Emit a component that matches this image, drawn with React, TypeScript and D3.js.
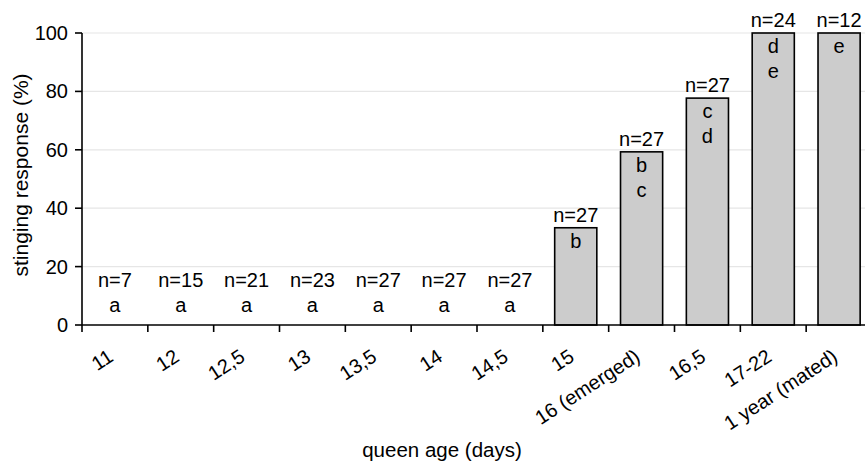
import React from 'react';
import * as d3 from 'd3';

const categories = ['11', '12', '12,5', '13', '13,5', '14', '14,5', '15', '16 (emerged)', '16,5', '17-22', '1 year (mated)'];
const stingingResponse = [0, 0, 0, 0, 0, 0, 0, 33.3, 59.3, 77.7, 100, 100];
const sampleSizes = [7, 15, 21, 23, 27, 27, 27, 27, 27, 27, 24, 12];
const groupLetters = [['a'], ['a'], ['a'], ['a'], ['a'], ['a'], ['a'], ['b'], ['b', 'c'], ['c', 'd'], ['d', 'e'], ['e']];
const yTicks = [0, 20, 40, 60, 80, 100];

const W = 865;
const H = 466;
const FONT = 'Liberation Sans, Arial, sans-serif';

const App = () => {
    const left = 82, right = 872, top = 33, bottom = 325;

    const x = d3.scaleBand<string>()
        .domain(categories)
        .range([left, right])
        .paddingInner(0.36)
        .paddingOuter(0.18);
    const y = d3.scaleLinear().domain([0, 100]).range([bottom, top]);
    const step = x.step();

    return (
        <svg width={W} height={H} style={{ position: 'absolute', left: 0, top: 0, background: '#fff' }} fontFamily={FONT}>
            {/* gridlines */}
            {yTicks.filter(t => t > 0).map(t => (
                <line key={t} x1={left} x2={right} y1={y(t)} y2={y(t)} stroke="#e6e6e6" strokeWidth={1.2} />
            ))}

            {/* bars */}
            {categories.map((c, i) => stingingResponse[i] > 0 && (
                <rect key={c} x={x(c)} y={y(stingingResponse[i])} width={x.bandwidth()}
                    height={y(0) - y(stingingResponse[i])} fill="#cccccc" stroke="#000" strokeWidth={1.6} />
            ))}

            {/* n labels and significance letters */}
            {categories.map((c, i) => {
                const cx = (x(c) as number) + x.bandwidth() / 2;
                const v = stingingResponse[i];
                const letters = groupLetters[i];
                const nY = v > 0 ? y(v) - 6 : y(0) - 13 - 25 * letters.length;
                const firstY = v > 0 ? y(v) + 20 : y(0) - 13;
                return (
                    <g key={c} fontSize={20} textAnchor="middle" fill="#000">
                        <text x={cx} y={nY}>n={sampleSizes[i]}</text>
                        {letters.map((l, j) => (
                            <text key={j} x={cx} y={firstY + j * 25}>{l}</text>
                        ))}
                    </g>
                );
            })}

            {/* y axis */}
            <line x1={left} x2={left} y1={top} y2={bottom} stroke="#000" strokeWidth={1.6} />
            {yTicks.map(t => (
                <g key={t}>
                    <line x1={left - 7} x2={left} y1={y(t)} y2={y(t)} stroke="#000" strokeWidth={1.6} />
                    <text x={left - 14} y={y(t)} dy="0.35em" textAnchor="end" fontSize={20}>{t}</text>
                </g>
            ))}

            {/* x axis */}
            <line x1={left} x2={right} y1={bottom} y2={bottom} stroke="#000" strokeWidth={1.6} />
            {d3.range(categories.length + 1).map(i => (
                <line key={i} x1={left + i * step} x2={left + i * step} y1={bottom} y2={bottom + 7} stroke="#000" strokeWidth={1.6} />
            ))}
            {categories.map(c => {
                const cx = (x(c) as number) + x.bandwidth() / 2;
                return (
                    <text key={c} transform={`translate(${cx - 8},${348}) rotate(-33)`} dy="0.71em"
                        textAnchor="end" fontSize={20}>{c}</text>
                );
            })}

            {/* axis titles */}
            <text x={442} y={457} textAnchor="middle" fontSize={20.5}>queen age (days)</text>
            <text transform={`translate(28,175) rotate(-90)`} textAnchor="middle" fontSize={21}>stinging response (%)</text>
        </svg>
    );
};

export default App;
